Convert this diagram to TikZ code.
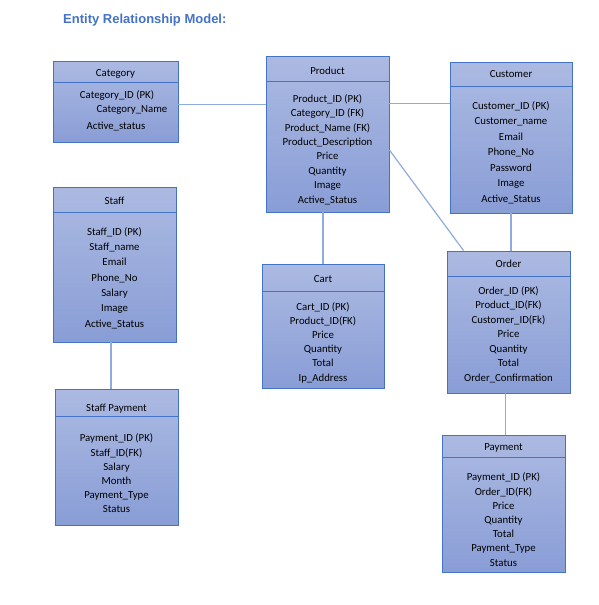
\documentclass[tikz,border=0pt]{standalone}
\usepackage{fontspec}
\setmainfont{Carlito}
\newfontfamily\titlefont{Liberation Sans}
\usepackage{tikz}
\usetikzlibrary{positioning, calc}
\definecolor{ERBlue}{RGB}{68,114,196}
\definecolor{ERLine}{RGB}{143,170,220}
\definecolor{ERTop}{RGB}{172,186,226}
\definecolor{ERBottom}{RGB}{137,157,214}

\begin{document}
\begin{tikzpicture}[x=1pt, y=-1pt,
          entity/.style={rectangle, draw=ERBlue, line width=0.8pt, top color=ERTop,
                         bottom color=ERBottom, inner sep=0pt},
          head/.style={font=\fontsize{10.8}{13}\selectfont},
          attr/.style={align=center, font=\fontsize{10.8}{#1}\selectfont},
          attr/.default=14.5,
          divider/.style={draw=ERBlue, line width=0.8pt},
          link/.style={draw=ERLine, line width=1.2pt}
        ]
        \useasboundingbox (0,0) rectangle (598,605);

        % Title
        \node[anchor=west, inner sep=0pt, text=ERBlue,
              font=\titlefont\bfseries\fontsize{13}{15}\selectfont]
              (title) at (63,20) {Entity Relationship Model:};

        % Category
        \node[entity, minimum width=125pt, minimum height=81pt]
              (cat) at (115.5,101.5) {};
        \node[head] (cathead) at (115.5,73.5) {Category};
        \draw[divider] ([yshift=-22pt]cat.north west) -- ([yshift=-22pt]cat.north east);
        \node[attr] (catid) at (117,95) {Category\_ID (PK)};
        \node[attr] (catname) at (132,110) {Category\_Name};
        \node[attr] (catact) at (116,126) {Active\_status};

        % Product
        \node[entity, minimum width=123pt, minimum height=156pt]
              (prod) at (327.5,134) {};
        \node[head] (prodhead) at (327.5,71) {Product};
        \draw[divider] ([yshift=-26pt]prod.north west) -- ([yshift=-26pt]prod.north east);
        \node[attr=14.4] (prodattr) at (327.5,149.5)
              {Product\_ID (PK)\\Category\_ID (FK)\\Product\_Name (FK)\\
               Product\_Description\\Price\\Quantity\\Image\\Active\_Status};

        % Customer
        \node[entity, minimum width=122pt, minimum height=151pt]
              (cust) at (511,137.5) {};
        \node[head] (custhead) at (511,74) {Customer};
        \draw[divider] ([yshift=-25pt]cust.north west) -- ([yshift=-25pt]cust.north east);
        \node[attr=15.5] (custattr) at (511,152.5)
              {Customer\_ID (PK)\\Customer\_name\\Email\\Phone\_No\\
               Password\\Image\\Active\_Status};

        % Staff
        \node[entity, minimum width=123pt, minimum height=155pt]
              (staff) at (114.5,264.5) {};
        \node[head] (staffhead) at (114.5,200.5) {Staff};
        \draw[divider] ([yshift=-26pt]staff.north west) -- ([yshift=-26pt]staff.north east);
        \node[attr=15.3] (staffattr) at (114.5,278)
              {Staff\_ID (PK)\\Staff\_name\\Email\\Phone\_No\\
               Salary\\Image\\Active\_Status};

        % Staff payment
        \node[entity, minimum width=123pt, minimum height=136pt]
              (spay) at (116.5,457) {};
        \node[head] (spayhead) at (116.5,409) {Staff Payment};
        \draw[divider] ([yshift=-28pt]spay.north west) -- ([yshift=-28pt]spay.north east);
        \node[attr=14.2] (spayattr) at (116.5,473.5)
              {Payment\_ID (PK)\\Staff\_ID(FK)\\Salary\\Month\\
               Payment\_Type\\Status};

        % Cart
        \node[entity, minimum width=122pt, minimum height=124pt]
              (cart) at (323,326) {};
        \node[head] (carthead) at (323,279) {Cart};
        \draw[divider] ([yshift=-28pt]cart.north west) -- ([yshift=-28pt]cart.north east);
        \node[attr=14.2] (cartattr) at (323,342.5)
              {Cart\_ID (PK)\\Product\_ID(FK)\\Price\\Quantity\\
               Total\\Ip\_Address};

        % Order
        \node[entity, minimum width=123pt, minimum height=142pt]
              (ord) at (508.5,322) {};
        \node[head] (ordhead) at (508.5,264) {Order};
        \draw[divider] ([yshift=-26pt]ord.north west) -- ([yshift=-26pt]ord.north east);
        \node[attr=14.5] (ordattr) at (508.5,334.5)
              {Order\_ID (PK)\\Product\_ID(FK)\\Customer\_ID(Fk)\\Price\\
               Quantity\\Total\\Order\_Confirmation};

        % Payment
        \node[entity, minimum width=123pt, minimum height=137pt]
              (pay) at (503.5,503.5) {};
        \node[head] (payhead) at (503.5,448) {Payment};
        \draw[divider] ([yshift=-23pt]pay.north west) -- ([yshift=-23pt]pay.north east);
        \node[attr=14.2] (payattr) at (503.5,519.5)
              {Payment\_ID (PK)\\Order\_ID(FK)\\Price\\Quantity\\
               Total\\Payment\_Type\\Status};

        % Relations
        \draw[link] ([yshift=-3pt]cat.east) -- ([yshift=-3pt]cat.east -| prod.west);
        \draw[link] ([yshift=30.5pt]prod.east) -- ([yshift=30.5pt]prod.east -| cust.west);
        \draw[link] ([yshift=-16pt]prod.east) -- ([xshift=17pt]ord.north west);
        \draw[link] (prod.south -| cart.north) -- (cart.north);
        \draw[link] (cust.south) -- (cust.south |- ord.north);
        \draw[link] ([xshift=-3.5pt]staff.south) -- ([xshift=-3.5pt]staff.south |- spay.north);
        \draw[link] ([xshift=2pt]pay.north) -- ([xshift=2pt]pay.north |- ord.south);
      \end{tikzpicture}
\end{document}
